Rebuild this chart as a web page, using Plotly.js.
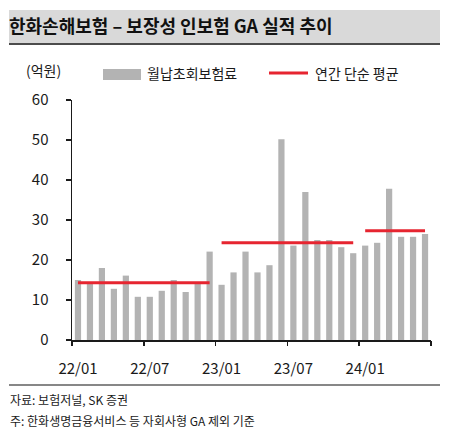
<!DOCTYPE html>
<html><head><meta charset="utf-8">
<script src="https://cdn.plot.ly/plotly-3.0.1.min.js"></script>
<style>html,body{margin:0;padding:0;background:#fff}#chart{width:454px;height:436px}</style>
</head><body><div id="chart"></div>
<script>
// ---- data ----
const months = ['22/01','22/02','22/03','22/04','22/05','22/06','22/07','22/08','22/09','22/10','22/11','22/12',
                '23/01','23/02','23/03','23/04','23/05','23/06','23/07','23/08','23/09','23/10','23/11','23/12',
                '24/01','24/02','24/03','24/04','24/05','24/06'];
const premium = [15, 14, 18, 12.8, 16.1, 10.8, 10.8, 12.3, 15, 12, 14, 22.1,
                 13.8, 16.9, 22.1, 16.9, 18.7, 50.2, 23.6, 37, 25, 25, 23.2, 21.7,
                 23.6, 24.3, 37.8, 25.8, 25.8, 26.5];
const avgYears = ['22', '23', '24'];
const avgValues = [14.3, 24.3, 27.3];
const tickLabels = ['22/01','22/07','23/01','23/07','24/01'];
const legendNames = ['월납초회보험료', '연간 단순 평균'];
const unitLabel = '(억원)';
const titleText = '한화손해보험 – 보장성 인보험 GA 실적 추이';
const sourceText = '자료: 보험저널, SK 증권';
const noteText = '주: 한화생명금융서비스 등 자회사형 GA 제외 기준';

// ---- layout geometry ----
const W = 454, H = 436;
const M = {l: 72, r: 23, t: 100, b: 96};
const PW = W - M.l - M.r, PH = H - M.t - M.b;
const px = v => (v - M.l) / PW;          // pixel x -> paper x
const py = v => (H - M.b - v) / PH;      // pixel y -> paper y
const FONT = '"Noto Sans CJK KR", "Noto Sans", sans-serif';
const GRAY = '#b3b3b3', RED = '#e62530', INK = '#1a1a1a';

const traces = [{
  type: 'bar', x: months, y: premium, width: 0.52,
  marker: {color: GRAY}, hoverinfo: 'x+y', showlegend: false
}];
avgYears.forEach((yr, i) => {
  const idx = months.map((m, j) => m.startsWith(yr + '/') ? j : -1).filter(j => j >= 0);
  const first = months[idx[0]], last = months[idx[idx.length - 1]];
  traces.push({
    type: 'scatter', mode: 'lines', x: [first, last], y: [avgValues[i], avgValues[i]],
    line: {color: RED, width: 3}, hoverinfo: 'y', showlegend: false
  });
});
traces.push({type: 'scatter', x: [], y: [], xaxis: 'x2', yaxis: 'y', showlegend: false, hoverinfo: 'skip'});

const layout = {
  width: W, height: H, margin: M,
  paper_bgcolor: '#fff', plot_bgcolor: '#fff',
  font: {family: FONT, color: INK, size: 14},
  showlegend: false, bargap: 0.4,
  title: {text: titleText, x: 9 / W, xanchor: 'left', xref: 'container',
          y: 1 - 27 / H, yanchor: 'middle', yref: 'container',
          font: {family: FONT, size: 18, weight: 'bold', color: '#111'}},
  xaxis: {type: 'category', range: [-0.5, months.length - 0.5], tickvals: tickLabels, ticktext: tickLabels,
          ticks: '', showline: true, linecolor: INK, linewidth: 1.5, showgrid: false, zeroline: false,
          tickfont: {size: 15, color: INK}, ticklabelstandoff: 14, fixedrange: true},
  xaxis2: {overlaying: 'x', anchor: 'y', side: 'bottom', type: 'linear',
           range: [-0.5, months.length - 0.5], tick0: -0.5, dtick: 6,
           ticks: 'outside', ticklen: 5, tickwidth: 1.5, tickcolor: INK,
           showticklabels: false, showline: false, showgrid: false, zeroline: false},
  yaxis: {range: [0, 60], dtick: 10, ticks: 'outside', ticklen: 5, tickwidth: 1.5, tickcolor: INK,
          showline: true, linecolor: INK, linewidth: 1.5, showgrid: false, zeroline: false,
          tickfont: {size: 15, color: INK}, ticklabelstandoff: 14, fixedrange: true},
  shapes: [
    {type: 'rect', xref: 'paper', yref: 'paper', x0: px(9), x1: px(440), y0: py(43), y1: py(10),
     fillcolor: '#d9d9d9', line: {width: 0}, layer: 'below'},
    {type: 'line', xref: 'paper', yref: 'paper', x0: px(9), x1: px(440), y0: py(44), y1: py(44),
     line: {color: '#111', width: 1.5}},
    {type: 'rect', xref: 'paper', yref: 'paper', x0: px(103), x1: px(141), y0: py(80), y1: py(69),
     fillcolor: GRAY, line: {width: 0}},
    {type: 'line', xref: 'paper', yref: 'paper', x0: px(269), x1: px(308), y0: py(73), y1: py(73),
     line: {color: RED, width: 3}},
    {type: 'line', xref: 'paper', yref: 'paper', x0: px(9), x1: px(440), y0: py(385), y1: py(385),
     line: {color: '#111', width: 1.2}}
  ],
  annotations: [
    {text: unitLabel, xref: 'paper', yref: 'paper', x: px(24), y: py(70), xanchor: 'left', yanchor: 'middle',
     showarrow: false, font: {size: 14, color: INK}},
    {text: legendNames[0], xref: 'paper', yref: 'paper', x: px(145), y: py(73), xanchor: 'left', yanchor: 'middle',
     showarrow: false, font: {size: 14, color: INK}},
    {text: legendNames[1], xref: 'paper', yref: 'paper', x: px(313), y: py(73), xanchor: 'left', yanchor: 'middle',
     showarrow: false, font: {size: 14, color: INK}},
    {text: sourceText, xref: 'paper', yref: 'paper', x: px(8), y: py(399), xanchor: 'left', yanchor: 'middle',
     showarrow: false, font: {size: 12, color: INK}},
    {text: noteText, xref: 'paper', yref: 'paper', x: px(8), y: py(420), xanchor: 'left', yanchor: 'middle',
     showarrow: false, font: {size: 12, color: INK}}
  ]
};

Plotly.newPlot('chart', traces, layout, {displayModeBar: false, staticPlot: true});
</script>
</body></html>
